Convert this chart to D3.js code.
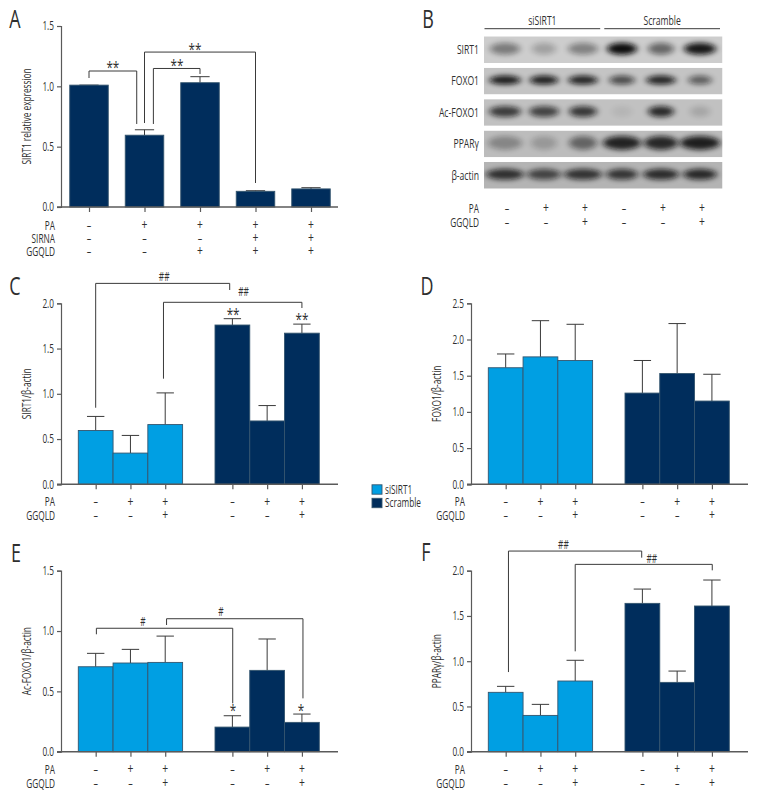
<!DOCTYPE html>
<html><head><meta charset="utf-8">
<script src="https://cdn.jsdelivr.net/npm/d3@7/dist/d3.min.js"></script>
<style>
html,body{margin:0;padding:0;background:#fff}
svg{display:block}
text{font-family:"Open Sans","Liberation Sans",sans-serif;fill:#2f2f2f}
</style></head><body>
<svg id="chart" width="768" height="804"></svg>
<script>
// ---------- data ----------
const laneA = ["a","b","c","d","e"];
const valuesA = [1.01,0.595,1.03,0.13,0.15];
const errTopA = [1.01,0.64,1.08,0.135,0.16];
const rowsA = [["PA",["–","+","+","+","+"]],["SIRNA",["–","–","–","+","+"]],["GGQLD",["–","–","+","+","+"]]];

const groups = ["siSIRT1","Scramble"];
const lanes = ["1","2","3"];
const rowsSix = [["PA",["–","+","+","–","+","+"]],["GGQLD",["–","–","+","–","–","+"]]];

const valuesC = [0.595,0.345,0.66,1.76,0.70,1.67];
const errTopC = [0.75,0.54,1.01,1.83,0.87,1.77];
const valuesD = [1.61,1.76,1.71,1.26,1.53,1.15];
const errTopD = [1.80,2.26,2.21,1.71,2.22,1.52];
const valuesE = [0.704,0.735,0.74,0.204,0.674,0.243];
const errTopE = [0.815,0.848,0.958,0.298,0.934,0.312];
const valuesF = [0.656,0.401,0.781,1.639,0.766,1.61];
const errTopF = [0.722,0.523,1.01,1.797,0.891,1.897];

// brackets: [lane from, value at foot, value of bar, lane to, value at foot]
const bracketsA = [[0,1.069,1.127,0.86,0.688],[1,0.696,1.284,3,0.199],[1.16,0.688,1.148,2,1.102]];
const marksA = [["**",0.43,1.177],["**",1.91,1.326],["**",1.585,1.193]];
const bracketsC = [[0,0.846,2.22,2.96,2.147],[1.95,1.167,2.011,5,1.948]];
const marksC = [["##",1.97,2.29],["##",3.32,2.125],["**",3.02,1.90],["**",5,1.85]];
const bracketsE = [[0.02,0.973,1.023,3.01,0.401],[2.02,1.05,1.102,5.03,0.442]];
const marksE = [["#",1.36,1.075],["#",2.83,1.16],["*",3.02,0.362],["*",4.97,0.362]];
const bracketsF = [[0.08,0.88,2.217,2.99,2.144],[2,1.109,2.07,5.01,2.004]];
const marksF = [["##",1.66,2.284],["##",3.27,2.129]];

// blot: band darkness and width per lane
const blotRows = ["SIRT1","FOXO1","Ac-FOXO1","PPARγ","β-actin"];
const blotLanes = ["1","2","3","4","5","6"];
const blotGround = ["#cdcdcd","#c4c4c4","#c1c1c1","#bcbcbc","#b4b4b4"];
const blotDark = [
 [0.42,0.22,0.38,1.00,0.52,0.95],
 [0.92,0.90,0.88,0.66,0.88,0.55],
 [0.74,0.70,0.76,0.06,0.84,0.14],
 [0.30,0.20,0.50,0.88,0.85,0.90],
 [0.80,0.68,0.78,0.76,0.82,0.84]];
const blotWidth = [
 [30,24,30,30,26,32],
 [32,29,30,26,30,24],
 [32,30,28,20,26,20],
 [34,26,28,38,34,40],
 [38,34,38,32,36,34]];
const blotHeight = [12,9,11,14,11];
const blotRowsB = [["PA",["–","+","+","–","+","+"]],["GGQLD",["–","–","+","–","–","+"]]];

const legendItems = [["siSIRT1","#009fe3"],["Scramble","#002d5c"]];

// ---------- drawing ----------
const svg = d3.select("#chart");
const LIGHT = "#009fe3", DARK = "#002d5c", AXIS = "#5a5a5a", INK = "#3a3a3a", SX = 0.69;
const defs = svg.append("defs");
defs.append("filter").attr("id","bandBlur").attr("x","-40%").attr("y","-80%").attr("width","180%").attr("height","260%")
  .append("feGaussianBlur").attr("stdDeviation","3 2.4");

function plain(g,x,y,txt,size,anchor,rot){
  return g.append("text").attr("transform",`translate(${x},${y})${rot?` rotate(${rot})`:""} scale(${SX},1)`)
    .attr("text-anchor",anchor||"middle").attr("font-size",size).text(txt);
}

function axes(g,y,ticks,x0,title){
  const ax = g.append("g").attr("transform",`translate(${x0},0)`)
    .call(d3.axisLeft(y).tickValues(ticks).tickFormat(d3.format(".1f")).tickSizeOuter(0).tickSize(4));
  ax.selectAll("path,line").attr("stroke",AXIS).attr("stroke-width",1.2);
  ax.selectAll("text").attr("font-size",12).attr("x",-7/SX).attr("transform",`scale(${SX},1)`)
    .style("font-family",'"Open Sans"').style("fill","#2f2f2f");
  const mid = (y.range()[0]+y.range()[1])/2;
  plain(g,x0-34,mid,title,12,"middle",-90).attr("dy","0.35em");
}

function symbols(g,x,rows,y0,dys,labelX){
  rows.forEach(([name,vals],r)=>{
    plain(g,labelX,y0+dys[r]+4.5,name,12,"end");
    vals.forEach((s,i)=>plain(g,x(i),y0+dys[r]+4.5,s,s==="+"?15:13).attr("dy",s==="+"?"0.5":"0"));
  });
}

function brackets(g,x,y,list,marks){
  g.selectAll("path.br").data(list).join("path").attr("class","br")
    .attr("fill","none").attr("stroke",INK).attr("stroke-width",1)
    .attr("d",d=>d3.line()([[x(d[0]),y(d[1])],[x(d[0]),y(d[2])],[x(d[3]),y(d[2])],[x(d[3]),y(d[4])]]));
  (marks||[]).forEach(m=>{
    const isStar = m[0].includes("*");
    plain(g,x(m[1]),y(m[2])+(isStar?8:4),m[0],isStar?17:12);
  });
}

function bars(g,pos,w,y,values,tops,colour){
  const base = y(0);
  g.selectAll("line.err").data(values).join("line").attr("class","err")
    .attr("x1",(d,i)=>pos(i)).attr("x2",(d,i)=>pos(i))
    .attr("y1",d=>y(d)).attr("y2",(d,i)=>y(tops[i])).attr("stroke",INK).attr("stroke-width",1);
  g.selectAll("line.cap").data(values).join("line").attr("class","cap")
    .attr("x1",(d,i)=>pos(i)-w/4).attr("x2",(d,i)=>pos(i)+w/4)
    .attr("y1",(d,i)=>y(tops[i])).attr("y2",(d,i)=>y(tops[i])).attr("stroke",INK).attr("stroke-width",1);
  g.selectAll("rect.bar").data(values).join("rect").attr("class","bar")
    .attr("x",(d,i)=>pos(i)-w/2).attr("width",w)
    .attr("y",d=>y(d)).attr("height",d=>base-y(d))
    .attr("fill",(d,i)=>colour(i)).attr("stroke","#34556e").attr("stroke-width",0.9);
}

function xAxisLine(g,pos,n,x0,x1,base){
  const ax = g.append("g").attr("transform",`translate(0,${base})`);
  ax.call(d3.axisBottom(d3.scaleOrdinal().domain(d3.range(n)).range(d3.range(n).map(pos)))
     .tickSizeOuter(0).tickSize(5).tickFormat(""));
  ax.select("path").remove();
  ax.selectAll("line").attr("stroke",AXIS).attr("stroke-width",1.2);
  ax.append("line").attr("x1",x0-4).attr("x2",x1).attr("stroke",AXIS).attr("stroke-width",1.4);
}

// Panel A
(function(){
  const g = svg.append("g");
  const y = d3.scaleLinear().domain([0,1.5]).range([207,26]);
  const xb = d3.scaleBand().domain(laneA).range([61.25,338.75]).paddingInner(0.306).paddingOuter(0.153);
  const pos = i=>xb(laneA[i])+xb.bandwidth()/2;
  const lane = d3.scaleLinear().domain(laneA.map((d,i)=>i)).range(laneA.map((d,i)=>pos(i)));
  bars(g,pos,xb.bandwidth(),y,valuesA,errTopA,()=>DARK);
  axes(g,y,[0,0.5,1,1.5],61,"SIRT1 relative expression");
  xAxisLine(g,pos,5,61,338,207);
  brackets(g,lane,y,bracketsA,marksA);
  symbols(g,pos,rowsA,207,[18,31,44],55);
  plain(g,15,28,"A",26);
})();

// Panels C D E F
function panel(off,y0,top,max,ticks,values,tops,title,br,mk,letter,lx,ly,dys){
  const g = svg.append("g");
  const y = d3.scaleLinear().domain([0,max]).range([y0,top]);
  const x0 = d3.scaleBand().domain(groups).range([off+78.3,off+319.3]).paddingInner(0.237).paddingOuter(0);
  const x1 = d3.scaleBand().domain(lanes).range([0,x0.bandwidth()]);
  const pos = i=>x0(groups[Math.floor(i/3)])+x1(lanes[i%3])+x1.bandwidth()/2;
  const lane = d3.scaleLinear().domain(d3.range(6)).range(d3.range(6).map(pos));
  bars(g,pos,x1.bandwidth(),y,values,tops,i=>i<3?LIGHT:DARK);
  axes(g,y,ticks,off+61,title);
  xAxisLine(g,pos,6,off+61,off+338,y0);
  if(br) brackets(g,lane,y,br,mk);
  symbols(g,pos,rowsSix,y0,dys,off+55);
  plain(g,lx,ly,letter,26);
}
panel(0,484.3,303.3,2,[0,.5,1,1.5,2],valuesC,errTopC,"SIRT1/β-actin",bracketsC,marksC,"C",15,295,[17.4,31]);
panel(410,484.3,303.3,2.5,[0,.5,1,1.5,2,2.5],valuesD,errTopD,"FOXO1/β-actin",null,null,"D",427,295,[17.4,31]);
panel(0,751.7,570.7,1.5,[0,.5,1,1.5],valuesE,errTopE,"Ac-FOXO1/β-actin",bracketsE,marksE,"E",16,562,[17.6,31.6]);
panel(410,751.7,570.7,2,[0,.5,1,1.5,2],valuesF,errTopF,"PPARγ/β-actin",bracketsF,marksF,"F",426,561,[17.6,31.6]);

// Panel B: blot
(function(){
  const g = svg.append("g");
  const rowY = d3.scaleBand().domain(blotRows).range([34,191]).paddingInner(0.15).paddingOuter(0.075);
  const laneX = d3.scaleBand().domain(blotLanes).range([485.5,719.5]);
  const cx = i=>laneX(blotLanes[i])+laneX.bandwidth()/2;
  blotRows.forEach((name,r)=>{
    const id = "clip"+r, top = rowY(name), h = rowY.bandwidth();
    defs.append("clipPath").attr("id",id).append("rect").attr("x",484).attr("y",top).attr("width",238.5).attr("height",h);
    const strip = g.append("g").attr("clip-path",`url(#${id})`);
    strip.append("rect").attr("x",484).attr("y",top).attr("width",238.5).attr("height",h).attr("fill",blotGround[r]);
    strip.selectAll("ellipse").data(blotDark[r]).join("ellipse")
      .attr("cx",(d,i)=>cx(i)).attr("cy",top+h/2-1)
      .attr("rx",(d,i)=>blotWidth[r][i]/2).attr("ry",blotHeight[r]/2)
      .attr("fill","#0d0d0d").attr("opacity",d=>d).attr("filter","url(#bandBlur)");
    plain(g,479,top+h/2,name,12.5,"end").attr("dy","0.35em");
  });
  const groupLines = d3.scaleBand().domain(groups).range([484.5,720]).paddingInner(0.034);
  groups.forEach(n=>{
    const a = groupLines(n), b = a+groupLines.bandwidth();
    g.append("line").attr("x1",a).attr("x2",b).attr("y1",28.7).attr("y2",28.7).attr("stroke",INK).attr("stroke-width",1);
    plain(g,(a+b)/2,24.5,n,12.5);
  });
  blotRowsB.forEach(([name,vals],r)=>{
    const yy = [208.5,222][r]+4.5;
    plain(g,479,yy,name,12,"end");
    vals.forEach((s,i)=>plain(g,cx(i)+2,yy,s,s==="+"?15:13));
  });
  plain(g,428,28,"B",26);
})();

// Legend
const lg = svg.append("g");
const legendY = d3.scalePoint().domain(legendItems.map(d=>d[0])).range([489.5,503]);
legendItems.forEach(([name,c])=>{
  lg.append("rect").attr("x",372).attr("y",legendY(name)-4.7).attr("width",10).attr("height",9.4)
    .attr("fill",c).attr("stroke","#34556e").attr("stroke-width",0.9);
  plain(lg,385,legendY(name),name,12,"start").attr("dy","0.35em");
});
</script>
</body></html>
